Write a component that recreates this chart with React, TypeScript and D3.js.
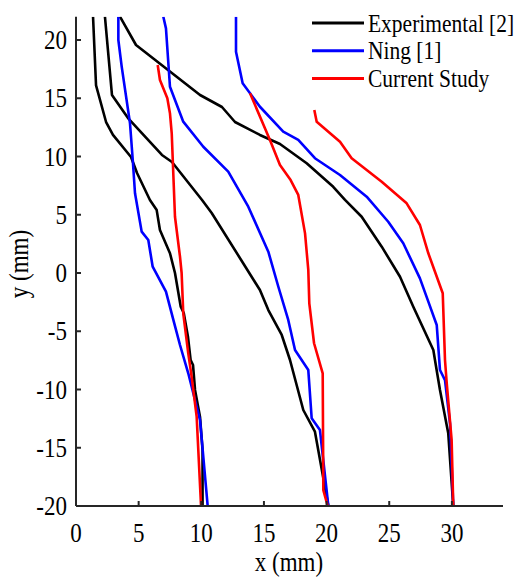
import React from "react";
import * as d3 from "d3";

type Pt = [number, number];

// Experimental [2]
const exp1: Pt[] = [[1.36,22],[1.6,16.1],[2.4,12.96],[2.95,11.85],[4.39,9.96],[4.87,8.58],[5.9,6.27],[6.44,5.4],[6.7,3.69],[7.5,1.7],[7.9,0],[8.36,-2.9],[8.6,-3.43],[8.94,-5.5],[9.15,-7.47],[9.34,-7.9],[9.5,-10.04],[9.9,-12.36],[10.1,-15.2],[10.1,-20]];
const exp2: Pt[] = [[2.31,22],[2.87,15.28],[4.15,13.3],[6.86,10.13],[7.66,9.53],[10.06,6.27],[10.83,5.15],[13.33,0.86],[14.68,-1.46],[15.35,-3.18],[16.42,-5.32],[17.08,-7.47],[18.14,-11.76],[19.07,-13.62],[20.14,-20]];
const exp3: Pt[] = [[3.51,22],[4.79,19.57],[9.9,15.28],[11.65,14.25],[12.69,12.96],[14.68,11.85],[16.28,11.07],[18.41,9.42],[20.53,7.4],[21.47,6.27],[22.8,4.83],[24.4,2.26],[25.86,-0.32],[26.92,-2.9],[28.52,-6.61],[28.65,-7.47],[29.05,-10.04],[29.71,-13.76],[30.11,-20]];

// Ning [1]
const ning1: Pt[] = [[3.38,22],[3.38,20],[3.65,17.7],[4.31,12.85],[4.53,9.7],[4.71,6.84],[5.24,3.55],[5.77,2.83],[6.12,0.54],[7.18,-1.6],[7.77,-4.03],[8.3,-6.18],[8.96,-8.61],[9.9,-12.62],[10.51,-20]];
const ning2: Pt[] = [[6.97,22],[7.18,21],[7.5,15.99],[8.56,12.99],[10.16,10.84],[12.15,8.7],[13.75,5.69],[15.35,1.83],[16.15,-1.18],[16.94,-4.03],[17.48,-6.61],[18.54,-8.33],[18.81,-12.47],[19.47,-13.48],[20.14,-20]];
const ning3: Pt[] = [[12.77,22],[12.77,19],[13.3,16.28],[14.68,14.27],[16.54,12.13],[17.74,11.42],[19.07,9.85],[21.07,8.41],[23.2,6.55],[24.92,4.4],[26.12,2.55],[27.45,-0.46],[28.12,-2.46],[28.79,-4.46],[29.05,-8.33],[29.45,-9.2],[29.85,-12.9],[30.11,-20]];

// Current Study
const cur1: Pt[] = [[6.52,17.85],[6.7,16.57],[7.29,15],[7.5,13.7],[7.64,11.99],[7.9,4.83],[8.3,1.4],[8.43,0],[8.56,-3.46],[8.96,-6.9],[9.23,-8.9],[9.63,-12.33],[9.98,-20]];
const cur2: Pt[] = [[13.89,15.42],[15.48,11.42],[16.28,9.27],[17.13,7.98],[17.74,6.7],[18.28,3.4],[18.54,0.26],[18.62,-2.6],[19.0,-6.03],[19.69,-8.61],[19.74,-18.63],[20.09,-20]];
const cur3: Pt[] = [[19.02,13.99],[19.21,12.99],[21.07,11.27],[22.0,9.85],[24.4,7.84],[26.39,5.98],[27.45,4.12],[28.12,1.69],[29.27,-1.74],[29.45,-7.47],[29.59,-9.47],[29.98,-14.33],[30.11,-20]];

const xTicks = [0, 5, 10, 15, 20, 25, 30];
const yTicks = [-20, -15, -10, -5, 0, 5, 10, 15, 20];
const legendLabels = ["Experimental [2]", "Ning [1]", "Current Study"];
const legendColors = ["#000000", "#0000ff", "#ff0000"];

const series: { pts: Pt[]; color: string }[] = [
  { pts: exp1, color: "#000000" },
  { pts: exp2, color: "#000000" },
  { pts: exp3, color: "#000000" },
  { pts: ning1, color: "#0000ff" },
  { pts: ning2, color: "#0000ff" },
  { pts: ning3, color: "#0000ff" },
  { pts: cur1, color: "#ff0000" },
  { pts: cur2, color: "#ff0000" },
  { pts: cur3, color: "#ff0000" },
];

const W = 515, H = 577;
const L = 76, R = 502, T = 16.7, B = 506;
const SY = 1.18;
const FONT = '"Liberation Serif", "Times New Roman", Times, "DejaVu Serif", serif';

export default function App() {
  const x = d3.scaleLinear().domain([0, 34]).range([L, R]);
  const y = d3.scaleLinear().domain([-20, 22]).range([B, T]);
  const line = d3.line<Pt>().x(d => x(d[0])).y(d => y(d[1]));
  const axisColor = "#262626";
  const txt = (tx: number, ty: number, s: string, anchor: string, size: number, key?: any, rot = 0) => (
    <g key={key} transform={`translate(${tx},${ty}) rotate(${rot}) scale(1,${SY})`}>
      <text x={0} y={0} textAnchor={anchor as any} style={{ fontFamily: FONT, fontSize: size }} fill="#000">{s}</text>
    </g>
  );
  return (
    <svg width={W} height={H} style={{ position: "absolute", left: 0, top: 0, background: "#fff" }}>
      <defs>
        <clipPath id="plot"><rect x={L} y={T} width={R - L} height={B - T} /></clipPath>
      </defs>
      <rect x={0} y={0} width={W} height={H} fill="#fff" />
      <g clipPath="url(#plot)">
        {series.map((s, i) => (
          <path key={i} d={line(s.pts) || ""} fill="none" stroke={s.color} strokeWidth={2.6} strokeLinejoin="round" />
        ))}
      </g>
      {/* axes */}
      <line x1={L} y1={T} x2={L} y2={B} stroke={axisColor} strokeWidth={2} />
      <line x1={L} y1={B} x2={R + 1} y2={B} stroke={axisColor} strokeWidth={2} />
      {xTicks.map(t => (
        <line key={"xt" + t} x1={x(t)} x2={x(t)} y1={B} y2={B - 5} stroke={axisColor} strokeWidth={2} />
      ))}
      {yTicks.map(t => (
        <line key={"yt" + t} x1={L} x2={L + 5} y1={y(t)} y2={y(t)} stroke={axisColor} strokeWidth={2} />
      ))}
      {xTicks.map(t => txt(x(t), 541.5, String(t), "middle", 23, "xl" + t))}
      {yTicks.map(t => txt(67, y(t) + 9, String(t), "end", 23, "yl" + t))}
      {txt(289, 571, "x (mm)", "middle", 23, "xlab")}
      {txt(28, 264, "y (mm)", "middle", 23, "ylab", -90)}
      {/* legend */}
      {legendLabels.map((lab, i) => (
        <g key={"lg" + i}>
          <line x1={312} x2={364} y1={23 + i * 27.7} y2={23 + i * 27.7} stroke={legendColors[i]} strokeWidth={3} />
          {txt(368, 31.5 + i * 27.7, lab, "start", 21.5)}
        </g>
      ))}
    </svg>
  );
}
